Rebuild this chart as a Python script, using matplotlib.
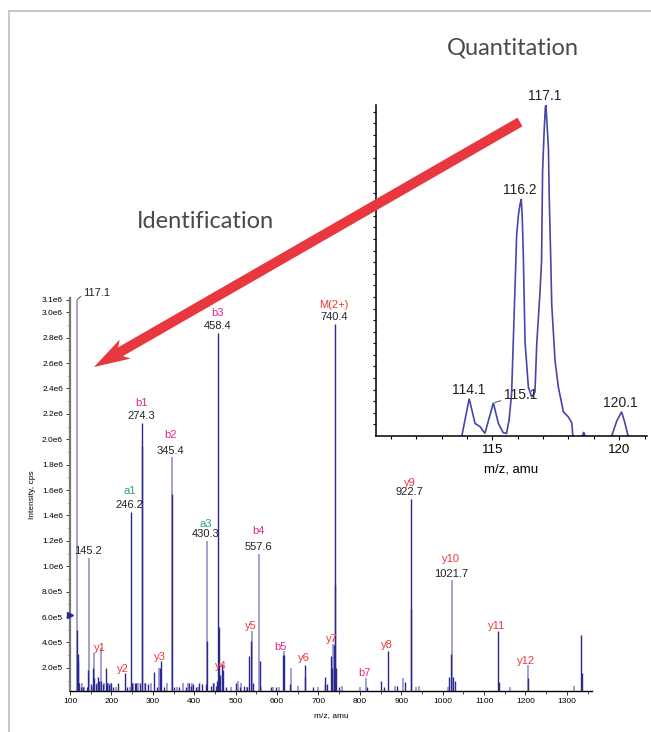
import matplotlib
matplotlib.use("Agg")
import matplotlib.pyplot as plt
from matplotlib.patches import FancyArrow
from matplotlib.ticker import MultipleLocator, FixedLocator
import numpy as np

# ---------------- data ----------------
# MS/MS spectrum, dark (navy) sticks
dark_mz = [116, 118.5, 119.5, 121, 126, 131, 140, 143.5, 150, 156, 158, 163, 168, 171, 176,
           179, 186, 189, 195, 200, 205, 215, 232, 238, 246.2, 250, 256, 260, 270, 274.3,
           275, 280, 288, 302, 310, 318, 319.5, 328, 345.4, 350, 364, 380, 388, 392, 398,
           405, 412, 420, 428, 430.8, 440, 445, 452, 456, 458.4, 458.9, 462, 466, 470, 476,
           500, 510, 520, 527, 532, 538, 542, 558.3, 586, 598, 614, 616, 632, 666.5, 668,
           688, 715, 717, 720, 730, 733, 737, 739, 740.4, 742, 750, 818, 851, 858, 868, 890,
           908, 922.7, 924, 1016, 1021, 1024, 1030, 1134, 1136, 1206, 1335, 1337]
dark_int = [0.50, 0.31, 0.25, 0.08, 0.05, 0.05, 0.05, 0.18, 0.07, 0.20, 0.12, 0.07, 0.13, 0.10, 0.10,
            0.07, 0.20, 0.08, 0.07, 0.08, 0.05, 0.08, 0.16, 0.05, 1.43, 0.08, 0.08, 0.08, 0.08, 2.13,
            1.95, 0.08, 0.07, 0.17, 0.05, 0.20, 0.25, 0.05, 1.57, 0.05, 0.05, 0.05, 0.08, 0.06, 0.07,
            0.05, 0.08, 0.07, 0.07, 0.41, 0.06, 0.08, 0.06, 0.10, 2.84, 0.52, 0.14, 0.23, 0.18, 0.05,
            0.08, 0.05, 0.06, 0.05, 0.29, 0.41, 0.08, 0.25, 0.05, 0.05, 0.30, 0.30, 0.07, 0.225, 0.13,
            0.05, 0.13, 0.07, 0.07, 0.29, 0.20, 0.38, 0.85, 2.91, 0.20, 0.05, 0.05, 0.10, 0.05, 0.33, 0.06,
            0.09, 1.53, 0.66, 0.13, 0.31, 0.13, 0.10, 0.49, 0.09, 0.12, 0.46, 0.16]
# light (lavender) sticks
light_mz = [117.1, 122, 128, 134, 145.2, 152, 159, 165, 175, 182, 192, 198, 210, 244, 253, 265,
            282, 295, 315, 335, 345.4, 358, 372, 386, 395, 410, 430.3, 448, 490, 505, 512, 528,
            539, 557.6, 562, 590, 604, 616.5, 633, 650, 700, 736, 756, 800, 816, 886, 905, 935,
            942, 1012, 1021.7, 1162, 1205, 1318]
light_int = [3.10, 0.08, 0.08, 0.05, 1.065, 0.05, 0.32, 0.08, 0.36, 0.08, 0.08, 0.08, 0.05, 0.05, 0.08, 0.08,
             0.08, 0.08, 0.20, 0.08, 1.86, 0.05, 0.08, 0.08, 0.08, 0.05, 1.20, 0.08, 0.05, 0.10, 0.08, 0.05,
             0.49, 1.10, 0.05, 0.05, 0.05, 0.33, 0.20, 0.06, 0.05, 0.39, 0.06, 0.05, 0.12, 0.06, 0.12, 0.05,
             0.06, 0.05, 0.89, 0.05, 0.225, 0.06]

# labelled peaks: m/z, intensity (1e6), number text, ion text
peak_mz = [117.1, 145.2, 246.2, 274.3, 345.4, 430.3, 458.4, 557.6, 740.4, 922.7, 1021.7]
peak_int = [3.10, 1.065, 1.43, 2.13, 1.86, 1.20, 2.84, 1.10, 2.91, 1.53, 0.89]
peak_text = ["117.1", "145.2", "246.2", "274.3", "345.4", "430.3", "458.4", "557.6", "740.4", "922.7", "1021.7"]
peak_ion = ["", "", "a1", "b1", "b2", "a3", "b3", "b4", "M(2+)", "y9", "y10"]

# other ion labels: text, m/z, intensity (1e6)
ion_text = ["y1", "y2", "y3", "y4", "y5", "b5", "y6", "y7", "b7", "y8", "y11", "y12"]
ion_mz = [172.5, 228.8, 317.5, 464.9, 536.7, 609.2, 665.5, 733.2, 811.2, 865.4, 1129.5, 1202]
ion_int = [0.354, 0.191, 0.288, 0.215, 0.532, 0.362, 0.276, 0.425, 0.162, 0.38, 0.53, 0.257]

# reporter-ion region profile (relative intensity)
q_mz = [113.80, 114.09, 114.32, 114.52, 114.71, 115.04, 115.24, 115.43, 115.56, 115.66, 115.76,
        115.85, 115.96, 116.03, 116.09, 116.14, 116.18, 116.22, 116.29, 116.42, 116.55, 116.68,
        116.75, 116.88, 116.94, 116.98, 117.04, 117.09, 117.11, 117.15, 117.21, 117.24, 117.30,
        117.34, 117.47, 117.60, 117.80, 117.99, 118.13, 118.17]
q_int = [0.0, 0.113, 0.038, 0.028, 0.008, 0.100, 0.038, 0.010, 0.008, 0.048, 0.128,
         0.343, 0.609, 0.669, 0.699, 0.716, 0.659, 0.549, 0.283, 0.148, 0.118, 0.133,
         0.278, 0.438, 0.529, 0.799, 0.919, 0.994, 1.0, 0.949, 0.869, 0.729, 0.539,
         0.398, 0.228, 0.148, 0.073, 0.058, 0.040, 0.0]
q2_mz = [118.55, 118.60, 118.65]
q2_int = [0.0, 0.012, 0.0]
q3_mz = [119.70, 119.90, 120.09, 120.22, 120.35]
q3_int = [0.0, 0.045, 0.073, 0.040, 0.0]
q_lab_text = ["114.1", "115.1", "116.2", "117.1", "120.1"]
q_lab_mz = [114.09, 115.04, 116.14, 117.11, 120.09]
q_lab_int = [0.113, 0.100, 0.716, 1.0, 0.073]

x_ticks = list(range(100, 1301, 100))
y_ticks = [2e5, 4e5, 6e5, 8e5, 1.0e6, 1.2e6, 1.4e6, 1.6e6, 1.8e6, 2.0e6, 2.2e6, 2.4e6,
           2.6e6, 2.8e6, 3.0e6, 3.1e6]
y_tick_labels = ["2.0e5", "4.0e5", "6.0e5", "8.0e5", "1.0e6", "1.2e6", "1.4e6", "1.6e6", "1.8e6",
                 "2.0e6", "2.2e6", "2.4e6", "2.6e6", "2.8e6", "3.0e6", "3.1e6"]
q_ticks = [115, 120]

# ---------------- style ----------------
FONT = ["Liberation Sans", "DejaVu Sans"]
plt.rcParams['font.family'] = FONT
DARK = "#2a2a8c"
LIGHT = "#9a9ad4"
ION_COL = {"a": "#2aa56e", "b": "#e0288a", "y": "#ee3535", "M": "#ee3535"}

W, H = 651, 732
fig = plt.figure(figsize=(W / 100, H / 100), dpi=100)
fig.patch.set_facecolor("white")

def px2fig(x0, y0, x1, y1):
    return [x0 / W, 1 - y1 / H, (x1 - x0) / W, (y1 - y0) / H]

# ---------------- main spectrum ----------------
ax = fig.add_axes(px2fig(70, 298.3, 591.7, 690.7))
ymin = 2e4
ax.vlines(light_mz, ymin, np.array(light_int) * 1e6, color=LIGHT, lw=1.3, zorder=2)
ax.vlines(dark_mz, ymin, np.array(dark_int) * 1e6, color=DARK, lw=1.0, zorder=3)
ax.set_xlim(100, 1360)
ax.set_ylim(ymin, 3.11e6)
for s in ["top", "right"]:
    ax.spines[s].set_visible(False)
ax.spines["left"].set_color("#777777")
ax.spines["left"].set_linewidth(1.6)
ax.spines["bottom"].set_color("black")
ax.spines["bottom"].set_linewidth(1.0)
ax.xaxis.set_major_locator(FixedLocator(x_ticks))
ax.xaxis.set_minor_locator(MultipleLocator(50))
ax.set_yticks(y_ticks)
ax.set_yticklabels(y_tick_labels)
ax.yaxis.set_minor_locator(FixedLocator(np.arange(1e5, 3.05e6, 2e5)))
ax.tick_params(axis="both", which="major", labelsize=6, length=3, width=0.7, pad=2, color="#333333")
ax.tick_params(axis="both", which="minor", length=1.8, width=0.6, color="#333333")
ax.set_xlabel("m/z, amu", fontsize=6, labelpad=5)
ax.set_ylabel("Intensity, cps", fontsize=6, labelpad=4)
ax.plot([100], [6.2e5], marker=">", color=DARK, ms=5, clip_on=False, transform=ax.transData,
        linestyle="none", zorder=5)

# labelled peaks
ION_DY = {"a1": 21, "b1": 20, "b2": 22, "a3": 17, "b3": 20, "b4": 23,
          "M(2+)": 19, "y9": 16, "y10": 21}
for mz, it, txt, ion in zip(peak_mz, peak_int, peak_text, peak_ion):
    y = it * 1e6
    if txt == "117.1":
        ax.annotate(txt, xy=(mz, y), xytext=(20, 7), textcoords="offset pixels",
                    ha="center", va="center", fontsize=8, color="#222222",
                    arrowprops=dict(arrowstyle="-", lw=0.6, color="#333333",
                                    shrinkA=0, shrinkB=0,
                                    connectionstyle="angle,angleA=0,angleB=40,rad=0"))
        continue
    ax.annotate(txt, xy=(mz, y), xytext=(-1, 6.5), textcoords="offset pixels",
                ha="center", va="center", fontsize=8, color="#222222")
    if ion:
        ax.annotate(ion, xy=(mz, y), xytext=(-1, ION_DY[ion]), textcoords="offset pixels",
                    ha="center", va="center", fontsize=8, color=ION_COL[ion[0]])

for txt, mz, it in zip(ion_text, ion_mz, ion_int):
    ax.text(mz, it * 1e6, txt, ha="center", va="center", fontsize=8, color=ION_COL[txt[0]], zorder=6)

# ---------------- quantitation inset ----------------
ax2 = fig.add_axes(px2fig(376, 105, 646.7, 436))
for xs, ys in [(q_mz, q_int), (q2_mz, q2_int), (q3_mz, q3_int)]:
    ax2.plot(xs, ys, color="#4646aa", lw=1.2, solid_joinstyle="miter")
ax2.set_xlim(110.42, 121.08)
ax2.set_ylim(0, 1.0)
for s in ["top", "right"]:
    ax2.spines[s].set_visible(False)
ax2.spines["left"].set_linewidth(1.1)
ax2.spines["bottom"].set_linewidth(1.1)
ax2.set_xticks(q_ticks)
ax2.xaxis.set_minor_locator(MultipleLocator(1))
ax2.yaxis.set_major_locator(FixedLocator([]))
ax2.yaxis.set_minor_locator(FixedLocator(np.arange(0.035, 1.0, 0.035)))
ax2.tick_params(axis="x", which="major", labelsize=9.5, length=3, width=0.8, pad=3)
ax2.tick_params(axis="x", which="minor", length=2.5, width=0.8)
ax2.tick_params(axis="y", which="minor", length=2.5, width=0.8)
ax2.set_xlabel("m/z, amu", fontsize=9.5, labelpad=5)
ax2.patch.set_alpha(0)
for txt, mz, it in zip(q_lab_text, q_lab_mz, q_lab_int):
    if txt == "115.1":
        ax2.annotate(txt, xy=(mz, it), xytext=(27, 8), textcoords="offset pixels",
                     ha="center", va="center", fontsize=10, color="#222222",
                     arrowprops=dict(arrowstyle="-", lw=0.6, color="#333333",
                                     shrinkA=9, shrinkB=1))
    else:
        ax2.annotate(txt, xy=(mz, it), xytext=(-1, 9), textcoords="offset pixels",
                     ha="center", va="center", fontsize=10, color="#222222")

# ---------------- overlay: frame, titles, arrow ----------------
ov = fig.add_axes([0, 0, 1, 1], zorder=10)
ov.set_xlim(0, W)
ov.set_ylim(H, 0)
ov.axis("off")
ov.patch.set_alpha(0)
ov.plot([9, 9, W + 5], [H + 5, 11, 11], color="#c4c4c4", lw=1.3, solid_joinstyle="miter")
TITLE_FONT = ["Lato", "Open Sans", "DejaVu Sans"]
ov.text(513, 48, "Quantitation", fontsize=17, family=TITLE_FONT, fontweight="normal",
        color="#4a4a4a", ha="center", va="center")
ov.text(205, 222, "Identification", fontsize=17, family=TITLE_FONT, fontweight="normal",
        color="#4a4a4a", ha="center", va="center")
arrow = FancyArrow(520, 122, 94 - 520, 367 - 122, width=10, head_width=22, head_length=36,
                   length_includes_head=True, overhang=0.15, color="#e8373f", lw=0)
ov.add_patch(arrow)

fig.savefig("out.png", dpi=100, facecolor="white")
